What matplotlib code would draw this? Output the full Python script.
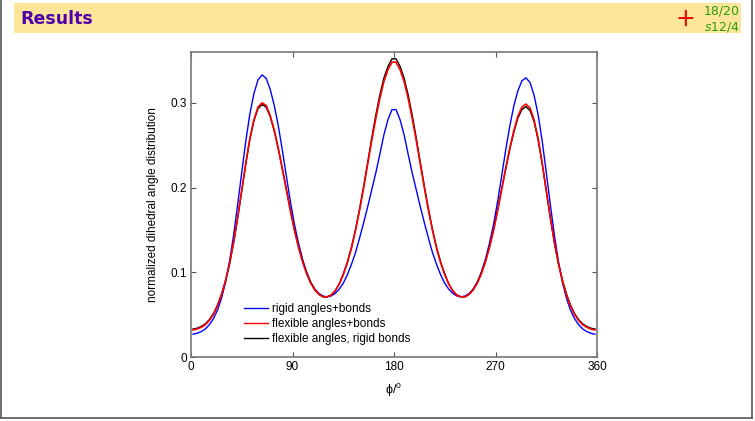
import numpy as np
import matplotlib

matplotlib.use("Agg")
import matplotlib.pyplot as plt
from matplotlib.lines import Line2D

# bin centres of the dihedral histogram (3.6 deg bins)
phi = np.arange(1.8, 360.0, 3.6)

rigid = [
    0.027, 0.028, 0.030, 0.033, 0.038, 0.045, 0.055, 0.069, 0.088, 0.113,
    0.144, 0.180, 0.218, 0.255, 0.287, 0.311, 0.327, 0.333, 0.329, 0.316,
    0.297, 0.273, 0.244, 0.213, 0.183, 0.156, 0.134, 0.115, 0.100, 0.088,
    0.080, 0.075, 0.072, 0.071, 0.072, 0.075, 0.080, 0.087, 0.097, 0.109,
    0.123, 0.140, 0.158, 0.177, 0.197, 0.217, 0.239, 0.262, 0.280, 0.292,
    0.292, 0.280, 0.262, 0.239, 0.217, 0.197, 0.177, 0.158, 0.140, 0.123,
    0.109, 0.097, 0.087, 0.080, 0.075, 0.072, 0.071, 0.072, 0.075, 0.080,
    0.088, 0.100, 0.115, 0.134, 0.156, 0.183, 0.213, 0.244, 0.272, 0.296,
    0.314, 0.326, 0.3295, 0.324, 0.309, 0.286, 0.255, 0.218, 0.180, 0.144,
    0.113, 0.088, 0.069, 0.055, 0.045, 0.038, 0.033, 0.030, 0.028, 0.027,
]

flex_all = [
    0.032, 0.033, 0.035, 0.038, 0.043, 0.050, 0.060, 0.073, 0.090, 0.110,
    0.136, 0.165, 0.197, 0.229, 0.258, 0.280, 0.295, 0.300, 0.297, 0.285,
    0.268, 0.246, 0.222, 0.197, 0.172, 0.149, 0.129, 0.112, 0.098, 0.087,
    0.079, 0.074, 0.071, 0.071, 0.073, 0.078, 0.086, 0.097, 0.111, 0.128,
    0.149, 0.173, 0.199, 0.227, 0.255, 0.281, 0.305, 0.325, 0.339, 0.348,
    0.348, 0.339, 0.325, 0.305, 0.281, 0.255, 0.227, 0.199, 0.173, 0.149,
    0.128, 0.111, 0.097, 0.086, 0.078, 0.073, 0.071, 0.071, 0.074, 0.079,
    0.087, 0.098, 0.112, 0.129, 0.149, 0.172, 0.197, 0.222, 0.246, 0.267,
    0.284, 0.295, 0.2985, 0.294, 0.280, 0.258, 0.229, 0.197, 0.165, 0.136,
    0.110, 0.090, 0.073, 0.060, 0.050, 0.043, 0.038, 0.035, 0.033, 0.032,
]

flex_angles = [
    0.033, 0.034, 0.036, 0.039, 0.044, 0.051, 0.061, 0.074, 0.090, 0.110,
    0.135, 0.164, 0.196, 0.228, 0.257, 0.279, 0.293, 0.298, 0.295, 0.284,
    0.267, 0.246, 0.222, 0.198, 0.173, 0.150, 0.130, 0.113, 0.099, 0.088,
    0.080, 0.074, 0.071, 0.071, 0.073, 0.078, 0.086, 0.098, 0.112, 0.129,
    0.150, 0.174, 0.201, 0.229, 0.258, 0.285, 0.309, 0.329, 0.343, 0.352,
    0.352, 0.343, 0.329, 0.309, 0.285, 0.258, 0.229, 0.201, 0.174, 0.150,
    0.129, 0.112, 0.098, 0.086, 0.078, 0.073, 0.071, 0.071, 0.074, 0.080,
    0.088, 0.099, 0.113, 0.130, 0.150, 0.173, 0.198, 0.222, 0.245, 0.265,
    0.282, 0.292, 0.2955, 0.291, 0.278, 0.256, 0.228, 0.196, 0.164, 0.135,
    0.110, 0.090, 0.074, 0.061, 0.051, 0.044, 0.039, 0.036, 0.034, 0.033,
]

labels = ["rigid angles+bonds", "flexible angles+bonds", "flexible angles, rigid bonds"]
colors = ["#0000ff", "#ff0000", "#000000"]
xticks = [0, 90, 180, 270, 360]
yticks = [0, 0.1, 0.2, 0.3]

plt.rcParams["font.family"] = ["Liberation Sans", "DejaVu Sans"]

W, H = 755, 421
fig = plt.figure(figsize=(W / 100, H / 100), dpi=100)


def px(x, y):
    # pixel position (from top-left) -> figure fraction
    return x / W, 1 - y / H


# slide frame
frame_kw = dict(color="#555555", linewidth=1.2, transform=fig.transFigure)
fig.add_artist(Line2D([1 / W, 1 / W], [0.006, 1], **frame_kw))
fig.add_artist(Line2D([752 / W, 752 / W], [0.006, 1], **frame_kw))
fig.add_artist(Line2D([1 / W, 752 / W], [0.006, 0.006], **frame_kw))

# header bar
x0, y0 = px(14, 33)
fig.add_artist(plt.Rectangle((x0, y0), (741 - 14) / W, 30 / H, transform=fig.transFigure,
                             facecolor="#ffe599", edgecolor="none"))
fig.text(*px(20, 19), "Results", color="#5000aa", fontsize=12.5, fontweight="bold",
         family="DejaVu Sans", va="center", ha="left")
fig.text(*px(685, 19), "+", color="#ee0000", fontsize=17, family="DejaVu Sans",
         va="center", ha="center")
fig.text(*px(740, 10.5), "18/20", color="#22a011", fontsize=9, family="DejaVu Sans",
         va="center", ha="right")
fig.text(*px(740, 27), r"$\mathit{s}$12/4", color="#22a011", fontsize=9,
         family="DejaVu Sans", va="center", ha="right")

ax = fig.add_axes([191 / W, 1 - 357 / H, 406 / W, 305 / H])
ax.plot(phi, rigid, color=colors[0], linewidth=1.0, zorder=2)
ax.plot(phi, flex_angles, color=colors[2], linewidth=1.0, zorder=3)
ax.plot(phi, flex_all, color=colors[1], linewidth=1.2, zorder=4)

ax.set_xlim(0, 360)
ax.set_ylim(0, 0.36)
ax.set_xticks(xticks)
ax.set_yticks(yticks)
ax.set_yticklabels(["0", "0.1", "0.2", "0.3"])
ax.tick_params(direction="in", length=3.5, width=0.8, top=True, right=True,
               labelsize=8.5, color="#555555", pad=3)
for sp in ax.spines.values():
    sp.set_color("#777777")
    sp.set_linewidth(1.2)

ax.set_xlabel("ϕ/$^\\mathregular{o}$", fontsize=9, labelpad=6)
ax.set_ylabel("normalized dihedral angle distribution", fontsize=8.5, labelpad=8)

handles = [Line2D([], [], color=c, linewidth=1.0) for c in colors]
ax.legend(handles, labels, loc="lower left", bbox_to_anchor=(0.11, 0.012), frameon=False,
          fontsize=8.5, handlelength=2.0, handletextpad=0.4, labelspacing=0.25,
          borderaxespad=0.3)

fig.savefig("out.png", dpi=100)
